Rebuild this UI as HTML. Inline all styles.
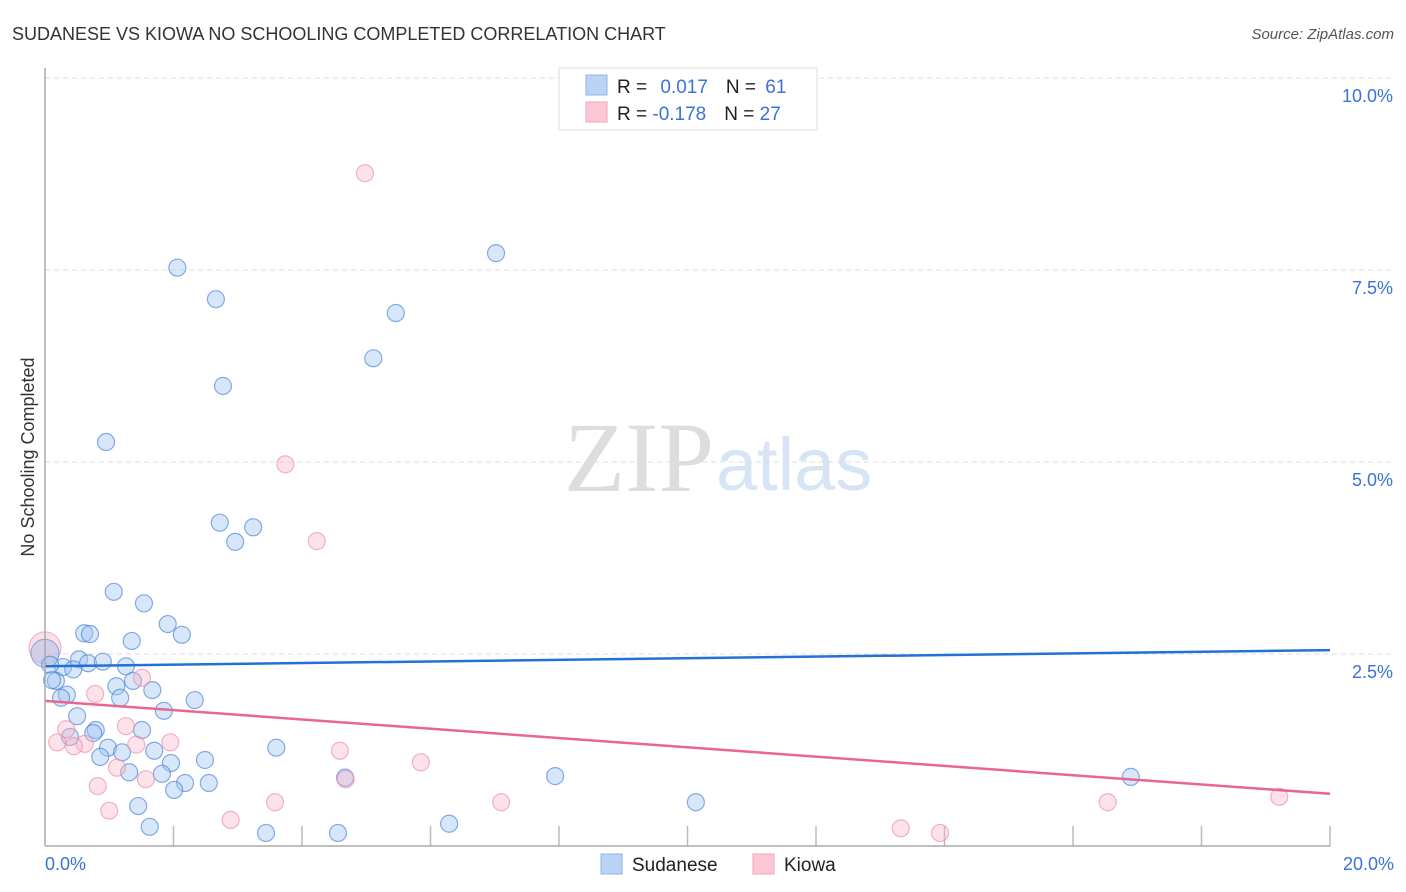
<!DOCTYPE html>
<html><head><meta charset="utf-8"><style>
body{margin:0;background:#fff;font-family:"Liberation Sans",sans-serif;}
#wrap{position:relative;width:1406px;height:892px;overflow:hidden}
</style></head><body>
<div id="wrap">
<svg id="chart" width="1406" height="892" xmlns="http://www.w3.org/2000/svg">
<text x="12" y="40" font-size="18" fill="#333">SUDANESE VS KIOWA NO SCHOOLING COMPLETED CORRELATION CHART</text>
<text x="1394" y="39" font-size="15" fill="#555" font-style="italic" text-anchor="end">Source: ZipAtlas.com</text>
<text x="34" y="457" font-size="18" fill="#333" text-anchor="middle" transform="rotate(-90 34 457)">No Schooling Completed</text>
<text x="714" y="491" font-size="100" fill="#ddd" text-anchor="end" font-family="Liberation Serif,serif">ZIP</text>
<text x="716" y="490" font-size="74" fill="#d6e4f5">atlas</text>
<g id="grid"></g><g id="pts"></g><g id="lines"></g>
<line x1="45" y1="68" x2="45" y2="846" stroke="#aaa" stroke-width="1.5"/>
<line x1="45" y1="846" x2="1330" y2="846" stroke="#aaa" stroke-width="1.5"/>
<text x="45" y="870" font-size="18" fill="#3a72d8">0.0%</text>
<text x="1394" y="870" font-size="18" fill="#3a72d8" text-anchor="end">20.0%</text>
<g>
<rect x="559" y="68" width="258" height="62" fill="#fff" stroke="#ddd"/>
<rect x="586" y="75" width="21" height="20" fill="#b9d3f5" stroke="#8fb4e8"/>
<rect x="586" y="102" width="21" height="20" fill="#fcc8d6" stroke="#f2a4ba"/>
<text x="617" y="93" font-size="19" fill="#222">R = <tspan fill="#3a72d8" dx="8">0.017</tspan><tspan dx="18" fill="#222">N = </tspan><tspan fill="#3a72d8" dx="4">61</tspan></text>
<text x="617" y="120" font-size="19" fill="#222">R = <tspan fill="#3a72d8">-0.178</tspan><tspan dx="18" fill="#222">N = </tspan><tspan fill="#3a72d8">27</tspan></text>
</g>
<g>
<rect x="601" y="854" width="21" height="20" fill="#b9d3f5" stroke="#8fb4e8"/>
<text x="632" y="871" font-size="19" fill="#222">Sudanese</text>
<rect x="753" y="854" width="21" height="20" fill="#fcc8d6" stroke="#f2a4ba"/>
<text x="784" y="871" font-size="19" fill="#222">Kiowa</text>
</g>
</svg>
</div>
<script>
const yTicks=[2.5,5.0,7.5,10.0];
const yTickLabels=["2.5%","5.0%","7.5%","10.0%"];
const xTickVals=[2,4,6,8,10,12,14,16,18,20];
const sudX=[2.06,2.66,2.77,0.95,2.72,3.24,2.96,1.07,1.54,1.91,0.61,0.70,2.13,1.35,0.53,0.67,0.90,1.26,0.28,0.08,0.44,0.17,0.11,1.11,1.37,1.67,0.34,0.25,1.17,2.33,1.85,0.50,0.79,0.75,1.51,0.39,0.98,1.20,1.70,0.86,3.60,2.49,1.96,1.31,1.82,2.18,2.01,2.55,4.67,7.94,1.45,1.63,3.44,4.56,6.29,10.13,16.90,7.02,5.46,5.11];
const sudY=[7.53,7.12,5.99,5.26,4.21,4.15,3.96,3.31,3.16,2.89,2.77,2.76,2.75,2.67,2.43,2.38,2.40,2.34,2.33,2.36,2.30,2.15,2.16,2.08,2.15,2.03,1.97,1.93,1.93,1.90,1.76,1.69,1.51,1.47,1.51,1.42,1.28,1.22,1.24,1.16,1.28,1.12,1.08,0.96,0.94,0.82,0.73,0.82,0.89,0.91,0.52,0.25,0.17,0.17,0.29,0.57,0.90,7.72,6.94,6.35];
const kioX=[4.98,3.74,4.23,1.51,0.78,1.26,0.33,0.19,0.62,0.45,1.42,1.95,4.59,5.85,1.12,1.57,0.82,4.68,3.58,1.00,2.89,7.10,16.54,19.21,13.32,13.93];
const kioY=[8.76,4.97,3.97,2.19,1.98,1.56,1.52,1.35,1.33,1.30,1.32,1.35,1.24,1.09,1.02,0.87,0.78,0.87,0.57,0.46,0.34,0.57,0.57,0.64,0.23,0.17];
const bigSud=[0,2.51], bigKio=[0,2.58];
const sudTrend=[2.34,2.55], kioTrend=[1.89,0.68];
const X=v=>45+v*64.25, Y=v=>846-v*76.8;
const NS="http://www.w3.org/2000/svg";
function mk(t,a,p){const e=document.createElementNS(NS,t);for(const k in a)e.setAttribute(k,a[k]);p.appendChild(e);return e;}
const grid=document.getElementById('grid');
yTicks.forEach((v,i)=>{
 const l=mk('line',{x1:45,x2:1394,y1:Y(v),y2:Y(v),stroke:'#ddd','stroke-dasharray':'5,4'},grid);
 
 
 const t=mk('text',{x:1393,y:Y(v)+24,'font-size':18,fill:'#3a72d8','text-anchor':'end'},grid);
 t.textContent=yTickLabels[i];
 
 
});
xTickVals.forEach(v=>{
 const l=mk('line',{x1:X(v),x2:X(v),y1:826,y2:846,stroke:'#bbb','stroke-width':1.5},grid);
 
 
});
const pts=document.getElementById('pts');
let b=mk('circle',{cx:X(bigKio[0]),cy:Y(bigKio[1]),r:16,fill:'rgba(246,160,185,0.35)',stroke:'rgba(232,130,160,0.6)'},pts);


b=mk('circle',{cx:X(bigSud[0]),cy:Y(bigSud[1]),r:14,fill:'rgba(150,185,235,0.4)',stroke:'rgba(70,130,210,0.6)'},pts);


sudX.forEach((v,i)=>{
 const c=mk('circle',{cx:X(v),cy:Y(sudY[i]),r:8.5,fill:'rgba(160,195,240,0.42)',stroke:'rgba(70,130,215,0.65)','stroke-width':1.2},pts);
 
 
});
kioX.forEach((v,i)=>{
 const c=mk('circle',{cx:X(v),cy:Y(kioY[i]),r:8.5,fill:'rgba(250,180,200,0.38)',stroke:'rgba(235,140,170,0.65)','stroke-width':1.2},pts);
 
 
});
const lines=document.getElementById('lines');
let tl=mk('line',{x1:X(0),x2:X(20),y1:Y(sudTrend[0]),y2:Y(sudTrend[1]),stroke:'#2470d6','stroke-width':2.5},lines);


tl=mk('line',{x1:X(0),x2:X(20),y1:Y(kioTrend[0]),y2:Y(kioTrend[1]),stroke:'#e8668f','stroke-width':2.5},lines);


</script>
</body></html>
